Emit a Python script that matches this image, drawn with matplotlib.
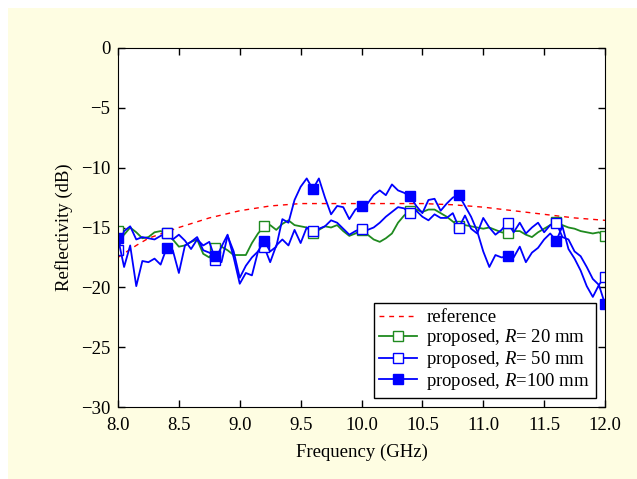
import numpy as np
import matplotlib
matplotlib.use("Agg")
import matplotlib.pyplot as plt
from matplotlib.patches import Rectangle
from matplotlib.ticker import FormatStrFormatter

plt.rcParams['font.family'] = ['Liberation Serif', 'DejaVu Serif']
plt.rcParams['mathtext.fontset'] = 'custom'
plt.rcParams['mathtext.rm'] = 'Liberation Serif'
plt.rcParams['mathtext.it'] = 'Liberation Serif:italic'

# frequency grid (GHz), 0.05 step
freq = np.round(np.arange(8.0, 12.0001, 0.05), 2)

# reference curve (smooth, sampled coarser)
ref_freq = [8.0, 8.15, 8.25, 8.5, 8.75, 9.0, 9.25, 9.5, 9.75, 10.0, 10.25, 10.5,
            10.75, 11.0, 11.25, 11.5, 11.75, 12.0]
ref_db = [-17.5, -16.5, -15.9, -15.0, -14.2, -13.6, -13.2, -13.0, -13.0, -13.0,
          -13.0, -13.0, -13.1, -13.3, -13.6, -13.9, -14.2, -14.4]

r20 = [-15.3, -15.6, -15.0, -15.4, -15.9, -15.8, -15.4, -15.3, -15.5, -16.0,
       -16.6, -16.5, -16.2, -16.0, -17.2, -17.5, -16.7, -16.6, -16.9, -17.3,
       -17.3, -17.3, -16.3, -15.5, -14.9, -14.8, -15.2, -14.7, -14.4, -14.8,
       -14.9, -15.0, -15.5, -15.2, -14.9, -15.0, -14.8, -15.3, -15.7, -15.5,
       -15.2, -15.6, -16.0, -16.2, -15.9, -15.5, -14.6, -14.0, -13.6, -13.5,
       -13.7, -13.5, -13.5, -13.8, -14.1, -14.5, -14.9, -14.8, -14.9, -15.0,
       -15.1, -15.0, -15.2, -15.4, -15.5, -15.3, -15.3, -15.6, -15.8, -15.4,
       -15.1, -14.8, -14.5, -14.8, -15.0, -15.1, -15.3, -15.4, -15.5, -15.4,
       -15.7]

r50 = [-16.9, -15.3, -14.9, -16.0, -15.8, -15.9, -16.0, -15.7, -15.5, -16.0,
       -15.6, -16.1, -16.8, -16.0, -16.5, -16.2, -17.7, -16.6, -15.6, -17.5,
       -19.7, -18.8, -19.0, -17.0, -16.6, -17.9, -16.5, -16.0, -16.5, -15.2,
       -16.3, -15.0, -15.3, -15.1, -14.9, -14.4, -14.6, -15.1, -15.6, -15.3,
       -15.1, -15.2, -15.0, -14.6, -14.1, -13.7, -13.3, -13.4, -13.8, -13.6,
       -14.1, -14.4, -13.9, -14.2, -14.2, -13.8, -15.0, -14.0, -15.1, -15.5,
       -14.2, -15.0, -15.6, -15.2, -14.6, -15.4, -14.6, -15.5, -15.0, -14.6,
       -15.4, -14.8, -14.6, -15.8, -16.0, -17.0, -17.4, -18.3, -19.3, -19.8,
       -19.1]

r100 = [-15.9, -18.3, -16.5, -19.9, -17.8, -17.9, -17.6, -18.1, -16.7, -16.9,
        -18.8, -16.5, -16.2, -15.8, -16.9, -17.1, -17.4, -17.9, -15.7, -17.0,
        -19.2, -18.2, -17.5, -17.0, -16.1, -17.0, -16.6, -14.3, -14.6, -12.7,
        -11.6, -10.9, -11.8, -10.9, -12.5, -13.9, -13.2, -13.3, -14.3, -13.5,
        -13.2, -13.0, -12.3, -11.9, -12.3, -11.4, -11.9, -12.1, -12.4, -13.2,
        -13.8, -12.7, -12.6, -13.6, -13.0, -12.5, -12.3, -13.2, -14.1, -15.3,
        -17.0, -18.3, -17.3, -17.5, -17.4, -17.5, -16.6, -17.9, -17.1, -16.7,
        -16.0, -15.5, -16.1, -14.9, -16.8, -17.6, -18.6, -19.9, -20.8, -19.8,
        -21.4]

fig = plt.figure(figsize=(6.37, 4.79), dpi=100)
fig.patches.append(Rectangle((8 / 637, 0), 1, 471 / 479, transform=fig.transFigure,
                             facecolor='#fefde2', edgecolor='none', zorder=-10))
ax = fig.add_axes([118 / 637, 1 - 407 / 479, 487 / 637, 359 / 479])

ax.plot(ref_freq, ref_db, color='red', linestyle=(0, (3.5, 3.5)), linewidth=1.0, label='reference')
ax.plot(freq, r20, color='#1f8a1f', linewidth=1.3, marker='s', markevery=8,
        markersize=7.5, markerfacecolor='white', markeredgewidth=1.0,
        label='proposed, $R$= 20 mm')
ax.plot(freq, r50, color='blue', linewidth=1.3, marker='s', markevery=8,
        markersize=7.5, markerfacecolor='white', markeredgewidth=1.0,
        label='proposed, $R$= 50 mm')
ax.plot(freq, r100, color='blue', linewidth=1.3, marker='s', markevery=8,
        markersize=7.5, markerfacecolor='blue', markeredgewidth=1.0,
        label='proposed, $R$=100 mm')

ax.set_xlim(8.0, 12.0)
ax.set_ylim(-30, 0)
ax.set_xticks(np.arange(8.0, 12.01, 0.5))
ax.set_yticks(np.arange(-30, 1, 5))
ax.xaxis.set_major_formatter(FormatStrFormatter('%.1f'))
ax.tick_params(direction='in', top=True, right=True, labelsize=13.5, length=5, width=1)
ax.tick_params(axis='x', pad=7)
ax.tick_params(axis='y', pad=5.5)
ax.set_xlabel('Frequency (GHz)', fontsize=13.5, labelpad=7)
ax.set_ylabel('Reflectivity (dB)', fontsize=13.5, labelpad=6)

leg = ax.legend(loc='lower right', fontsize=13.5, frameon=True, fancybox=False,
                edgecolor='black', borderpad=0.3, labelspacing=0.05,
                handlelength=2.0, handletextpad=0.5, borderaxespad=0.5,
                framealpha=1.0)
leg.get_frame().set_linewidth(1.0)

fig.savefig('out.png', dpi=100)
